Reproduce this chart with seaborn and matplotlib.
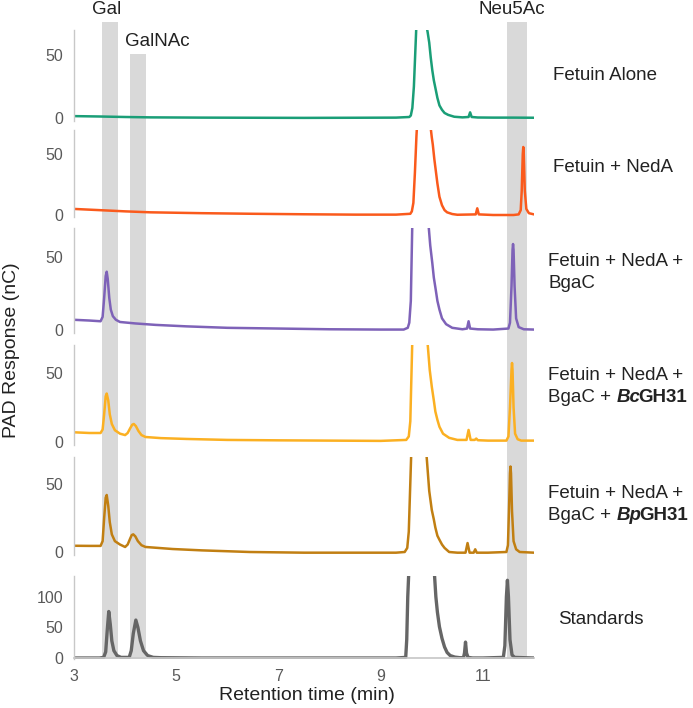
import pandas as pd
import numpy as np
import seaborn as sns
import matplotlib.pyplot as plt

# retention time (min) / PAD response (nC)
t_alone = [3.0, 3.5, 4.0, 4.5, 5.5, 6.5, 7.5, 8.5, 9.3, 9.56, 9.59, 9.62, 9.65, 9.68, 9.70, 9.78, 9.84, 9.89, 9.92, 9.95, 9.98, 10.01, 10.04, 10.07, 10.11, 10.15, 10.2, 10.25, 10.32, 10.44, 10.6, 10.72, 10.75, 10.78, 10.9, 11.2, 11.6, 12.0]
y_alone = [1.5, 1.2, 0.8, 0.5, 0.3, 0.2, 0.1, 0.2, 0.3, 0.8, 2, 8, 25, 55, 75, 300, 300, 75, 68, 60, 48, 38, 30, 24, 16, 10, 6.5, 4, 2.5, 1, 0.5, 0.8, 4.5, 0.8, 0.4, 0.3, 0.3, 0.2]

t_neda = [3.0, 3.5, 4.0, 4.5, 5.5, 6.5, 7.5, 8.5, 9.3, 9.58, 9.61, 9.64, 9.67, 9.70, 9.72, 9.80, 9.90, 9.97, 10.0, 10.02, 10.05, 10.08, 10.11, 10.15, 10.2, 10.25, 10.3, 10.4, 10.5, 10.86, 10.89, 10.92, 11.2, 11.6, 11.70, 11.74, 11.76, 11.78, 11.79, 11.80, 11.82, 11.85, 11.9, 12.0]
y_neda = [5, 4, 3, 2.2, 1.5, 1, 0.6, 0.3, 0.3, 1, 3, 10, 35, 65, 80, 300, 300, 75, 64, 58, 46, 36, 26, 15, 8, 4, 2.2, 0.8, 0.2, 0.5, 5.5, 0.5, 0, 0, 0.5, 4, 20, 50, 56, 50, 20, 5, 1.5, 0.5]

t_bgac = [3.0, 3.3, 3.52, 3.56, 3.59, 3.62, 3.64, 3.66, 3.69, 3.72, 3.76, 3.82, 3.9, 4.2, 4.6, 5.2, 6.0, 7.0, 8.0, 9.0, 9.45, 9.53, 9.56, 9.59, 9.62, 9.70, 9.80, 9.93, 9.97, 10.01, 10.04, 10.08, 10.11, 10.15, 10.2, 10.28, 10.4, 10.6, 10.69, 10.72, 10.75, 10.9, 11.2, 11.50, 11.53, 11.56, 11.58, 11.59, 11.60, 11.62, 11.65, 11.7, 11.8, 12.0]
y_bgac = [7, 6.5, 6, 9, 22, 37, 40, 35, 22, 14, 9.5, 7, 5.5, 4.5, 3.5, 2.5, 1.5, 1, 0.5, 0.3, 0.3, 1.5, 5, 20, 75, 300, 300, 75, 58, 46, 36, 27, 20, 14, 8, 4, 1.5, 0.5, 1, 6, 1, 0.5, 0.3, 1, 5, 30, 55, 59, 55, 30, 8, 2, 0.5, 0.3]

t_bc = [3.0, 3.3, 3.52, 3.56, 3.59, 3.62, 3.64, 3.67, 3.7, 3.74, 3.8, 3.9, 4.0, 4.05, 4.1, 4.14, 4.17, 4.21, 4.26, 4.32, 4.4, 4.7, 5.2, 6.0, 7.0, 8.0, 9.0, 9.5, 9.55, 9.58, 9.62, 9.72, 9.82, 9.91, 9.96, 10.0, 10.04, 10.07, 10.11, 10.15, 10.22, 10.34, 10.5, 10.68, 10.72, 10.76, 10.84, 10.87, 10.9, 11.1, 11.46, 11.5, 11.53, 11.56, 11.57, 11.58, 11.6, 11.63, 11.68, 11.75, 12.0]
y_bc = [7, 6.5, 6.5, 9, 20, 33, 35, 30, 20, 13, 8.5, 6, 5, 6.5, 10, 12.5, 13, 11.5, 8, 5, 3.6, 2.8, 2.2, 1.5, 1.2, 1, 0.8, 1.5, 4, 15, 75, 300, 300, 75, 52, 40, 30, 22, 16, 11, 6, 3, 1.5, 1.5, 8.7, 1.5, 1.5, 2.5, 1.3, 1, 1, 4, 25, 52, 57, 52, 25, 6, 2, 1, 1]

t_bp = [3.0, 3.3, 3.52, 3.56, 3.59, 3.62, 3.64, 3.67, 3.7, 3.74, 3.8, 3.9, 4.0, 4.05, 4.1, 4.13, 4.16, 4.2, 4.25, 4.32, 4.4, 4.93, 5.5, 6.44, 7.5, 8.5, 9.3, 9.47, 9.52, 9.55, 9.6, 9.70, 9.80, 9.89, 9.95, 10.0, 10.04, 10.07, 10.11, 10.15, 10.2, 10.25, 10.34, 10.5, 10.66, 10.7, 10.74, 10.82, 10.85, 10.88, 11.1, 11.46, 11.49, 11.51, 11.53, 11.54, 11.55, 11.57, 11.6, 11.65, 11.72, 12.0]
y_bp = [4.6, 4.5, 4.5, 8, 25, 40, 42, 34, 22, 13, 8, 5.5, 3.7, 5.5, 10, 12.5, 13, 11.5, 8, 5, 3.7, 2.2, 1.2, 0, -0.5, -0.5, -0.5, 0, 3, 15, 75, 300, 300, 75, 45, 31, 24, 18, 12, 9, 5.5, 3, 0, -0.5, -0.5, 6.6, -0.5, -0.5, 2, -0.5, -0.5, 0, 5, 30, 58, 63, 58, 30, 8, 2, 0, -0.5]

t_std = [3.0, 3.5, 3.58, 3.62, 3.65, 3.68, 3.71, 3.74, 3.78, 3.84, 3.92, 4.08, 4.12, 4.16, 4.21, 4.25, 4.3, 4.36, 4.44, 4.55, 4.7, 5.5, 6.5, 7.5, 8.5, 9.3, 9.49, 9.51, 9.53, 9.55, 9.70, 9.90, 10.05, 10.08, 10.11, 10.15, 10.2, 10.25, 10.3, 10.36, 10.45, 10.55, 10.62, 10.64, 10.66, 10.68, 10.71, 10.8, 11.0, 11.40, 11.43, 11.46, 11.48, 11.50, 11.53, 11.57, 11.62, 12.0]
y_std = [0, 0, 1, 10, 45, 76, 55, 28, 12, 4, 1, 1, 12, 40, 62, 50, 28, 12, 4, 1, 0.5, 0, 0, 0, 0, 0, 1, 30, 100, 140, 400, 400, 140, 100, 75, 51, 32, 18, 9, 4, 1.5, 0.5, 0.5, 8, 26, 8, 1, 0, 0, 1, 20, 100, 127, 100, 30, 5, 1, 0]

# sugar reference windows
band_names = ["Gal", "GalNAc", "Neu5Ac"]
band_start = [3.55, 4.09, 11.48]
band_end = [3.86, 4.41, 11.87]

x_ticks = [3, 5, 7, 9, 11]

W, H = 693, 708
def fx(px):
    return px / W
def fy(py):
    return 1 - py / H

sns.set_theme(style="white")
plt.rcParams['font.family'] = ['Liberation Sans', 'DejaVu Sans']

fig = plt.figure(figsize=(W / 100, H / 100), dpi=100)
left_px, right_px = 74, 534

# background axis for the grey bands (runs across all panels)
bg = fig.add_axes([fx(left_px), fy(659), fx(right_px - left_px), (659 - 22) / H])
bg.set_xlim(3, 12)
bg.set_ylim(0, 1)
bg.axis("off")
band_tops = [1.0, (659 - 54) / (659 - 22), 1.0]
for s, e, top in zip(band_start, band_end, band_tops):
    bg.axvspan(s, e, ymin=0, ymax=top, color="#d9d9d9", lw=0)

traces = [
    (t_alone, y_alone, "#1a9e77", 30, 118, 70, [0, 50]),
    (t_neda, y_neda, "#fa5a1c", 130, 215, 70, [0, 50]),
    (t_bgac, y_bgac, "#7e62b8", 228, 330, 70, [0, 50]),
    (t_bc, y_bc, "#fbb022", 345, 442, 70, [0, 50]),
    (t_bp, y_bp, "#c17f12", 457, 552, 70, [0, 50]),
    (t_std, y_std, "#666666", 576, 658, 134, [0, 50, 100]),
]

axes = []
for i, (t, y, col, top_px, zero_px, ytop, yt) in enumerate(traces):
    last = i == len(traces) - 1
    ybot = -1 if last else -2
    ppu = (zero_px - top_px) / ytop
    bot_px = zero_px - ybot * ppu
    ax = fig.add_axes([fx(left_px), fy(bot_px), fx(right_px - left_px), (bot_px - top_px) / H])
    ax.set_facecolor("none")
    df = pd.DataFrame({"time": t, "signal": y})
    sns.lineplot(data=df, x="time", y="signal", ax=ax, color=col,
                 lw=2.4 if last else 1.8, estimator=None, sort=False)
    ax.set_xlim(3, 12)
    ax.set_ylim(ybot, ytop)
    ax.set_yticks(yt)
    ax.set_xlabel("")
    ax.set_ylabel("")
    for sp in ["top", "right"]:
        ax.spines[sp].set_visible(False)
    ax.spines["left"].set_color("#c8c8c8")
    ax.spines["left"].set_linewidth(1)
    if last:
        ax.spines["bottom"].set_color("#c8c8c8")
        ax.spines["bottom"].set_position(("data", 0))
        ax.set_xticks(x_ticks)
    else:
        ax.spines["bottom"].set_visible(False)
        ax.set_xticks([])
    ax.tick_params(length=0, labelsize=11.5, labelcolor="#595959", pad=8)
    axes.append(ax)

# band labels
lab_kw = dict(fontsize=13.5, color="#222222", ha="center", va="center")
fig.text(fx(107), fy(9), "Gal", **lab_kw)
fig.text(fx(157), fy(41), "GalNAc", **lab_kw)
fig.text(fx(512), fy(9), "Neu5Ac", **lab_kw)

# sample labels
txt_kw = dict(fontsize=13.5, color="#222222", ha="left", va="center")
fig.text(fx(553), fy(75), "Fetuin Alone", **txt_kw)
fig.text(fx(553), fy(167), "Fetuin + NedA", **txt_kw)
fig.text(fx(548), fy(262), "Fetuin + NedA +", **txt_kw)
fig.text(fx(548), fy(284), "BgaC", **txt_kw)
fig.text(fx(548), fy(376), "Fetuin + NedA +", **txt_kw)
fig.text(fx(548), fy(493), "Fetuin + NedA +", **txt_kw)
for ypx, ital in [(398, "Bc"), (515, "Bp")]:
    t1 = fig.text(fx(548), fy(ypx), "BgaC +", **txt_kw)
    a1 = axes[0].annotate(ital, xy=(1, 0), xycoords=t1, xytext=(3.8, 0), textcoords="offset points",
                          fontsize=13.5, color="#222222", fontweight="bold", fontstyle="italic",
                          ha="left", va="bottom", annotation_clip=False)
    axes[0].annotate("GH31", xy=(1, 0), xycoords=a1, xytext=(-1.2, 0), textcoords="offset points",
                     fontsize=13.5, color="#222222", fontweight="bold",
                     ha="left", va="bottom", annotation_clip=False)
fig.text(fx(558), fy(619), "Standards", **txt_kw)

fig.text(fx(12), fy(350), "PAD Response (nC)", rotation=90, fontsize=14, color="#222222", ha="center", va="center")
fig.text(fx(307), fy(695), "Retention time (min)", fontsize=14, color="#222222", ha="center", va="center")

fig.savefig("out.png", dpi=100)
